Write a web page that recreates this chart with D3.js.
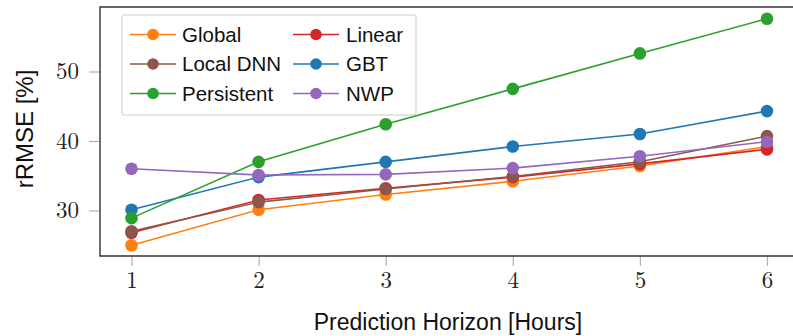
<!DOCTYPE html>
<html>
<head>
<meta charset="utf-8">
<script src="https://cdn.jsdelivr.net/npm/d3@7"></script>
<style>
html,body{margin:0;padding:0;background:#fff;}
svg{display:block;}
</style>
</head>
<body>
<svg id="chart" width="793" height="336"></svg>
<script>
const horizons = [1, 2, 3, 4, 5, 6];
const xTicks = [1, 2, 3, 4, 5, 6];
const yTicks = [30, 40, 50];
const globalVals     = [25.0, 30.1, 32.3, 34.2, 36.4, 39.2];
const linearVals     = [26.8, 31.5, 33.2, 34.8, 36.7, 38.8];
const localDnnVals   = [27.0, 31.2, 33.1, 34.9, 37.0, 40.7];
const gbtVals        = [30.1, 34.8, 37.0, 39.2, 41.0, 44.3];
const persistentVals = [28.9, 37.0, 42.4, 47.5, 52.6, 57.6];
const nwpVals        = [36.0, 35.1, 35.2, 36.1, 37.8, 39.9];

const seriesNames  = ["Global", "Linear", "Local DNN", "GBT", "Persistent", "NWP"];
const seriesColors = ["#ff7f0e", "#d62728", "#8c564b", "#1f77b4", "#2ca02c", "#9467bd"];
const seriesValues = [globalVals, linearVals, localDnnVals, gbtVals, persistentVals, nwpVals];
// legend layout order (column-major, 2 columns)
const legendCol1 = ["Global", "Local DNN", "Persistent"];
const legendCol2 = ["Linear", "GBT", "NWP"];

const svg = d3.select("#chart");
const L = 100, R = 799, T = 7, B = 256;
const x = d3.scaleLinear().domain([0.752, 6.252]).range([L, R]);
const y = d3.scaleLinear().domain([23.45, 59.28]).range([B, T]);

const serif = "'Latin Modern Roman','Liberation Serif','Times New Roman',serif";
const sans = "'Liberation Sans',Arial,sans-serif";

// axes
const xAxis = d3.axisBottom(x).tickValues(xTicks).tickSize(10).tickPadding(6).tickFormat(d3.format("d"));
const gx = svg.append("g").attr("transform", `translate(0,${B})`).call(xAxis);
gx.select(".domain").remove();
gx.selectAll(".tick line").attr("stroke", "#b0b0b0").attr("stroke-width", 1.2);
gx.selectAll(".tick text").attr("font-family", serif).attr("font-size", 23).attr("fill", "#222");

const yAxis = d3.axisLeft(y).tickValues(yTicks).tickSize(11).tickPadding(10);
const gy = svg.append("g").attr("transform", `translate(${L},0)`).call(yAxis);
gy.select(".domain").remove();
gy.selectAll(".tick line").attr("stroke", "#b0b0b0").attr("stroke-width", 1.2);
gy.selectAll(".tick text").attr("font-family", serif).attr("font-size", 23).attr("fill", "#222");

// lines and markers
const line = d3.line().x((d, i) => x(horizons[i])).y(d => y(d));
seriesValues.forEach((vals, s) => {
  const g = svg.append("g");
  g.append("path").datum(vals).attr("d", line).attr("fill", "none")
    .attr("stroke", seriesColors[s]).attr("stroke-width", 1.6);
  g.selectAll("circle").data(vals).join("circle")
    .attr("cx", (d, i) => x(horizons[i])).attr("cy", d => y(d)).attr("r", 6.3)
    .attr("fill", seriesColors[s]);
});

// spines
svg.append("path").attr("d", `M${R},${T}H${L}V${B}H${R}`).attr("fill", "none")
  .attr("stroke", "#333").attr("stroke-width", 1.4);

// legend
const lg = svg.append("g");
lg.append("rect").attr("x", 122).attr("y", 15).attr("width", 294).attr("height", 100)
  .attr("rx", 2).attr("fill", "rgba(255,255,255,0.85)").attr("stroke", "#cccccc").attr("stroke-width", 1);
const rowsY = [34.5, 64, 93.5];
function legendItem(name, lx, ty, tx) {
  const c = seriesColors[seriesNames.indexOf(name)];
  lg.append("line").attr("x1", lx).attr("x2", lx + 46).attr("y1", ty).attr("y2", ty)
    .attr("stroke", c).attr("stroke-width", 1.6);
  lg.append("circle").attr("cx", lx + 23).attr("cy", ty).attr("r", 5.8).attr("fill", c);
  lg.append("text").attr("x", tx).attr("y", ty).attr("dy", "0.36em")
    .attr("font-family", sans).attr("font-size", 20.5).attr("fill", "#111").text(name);
}
legendCol1.forEach((n, i) => legendItem(n, 130, rowsY[i], 182));
legendCol2.forEach((n, i) => legendItem(n, 293, rowsY[i], 346));

// axis labels
svg.append("text").attr("x", 448).attr("y", 330).attr("text-anchor", "middle")
  .attr("font-family", sans).attr("font-size", 23).attr("fill", "#111")
  .text("Prediction Horizon [Hours]");
svg.append("text").attr("transform", "translate(33,129) rotate(-90)").attr("text-anchor", "middle")
  .attr("font-family", sans).attr("font-size", 24).attr("fill", "#111")
  .text("rRMSE [%]");
</script>
</body>
</html>
